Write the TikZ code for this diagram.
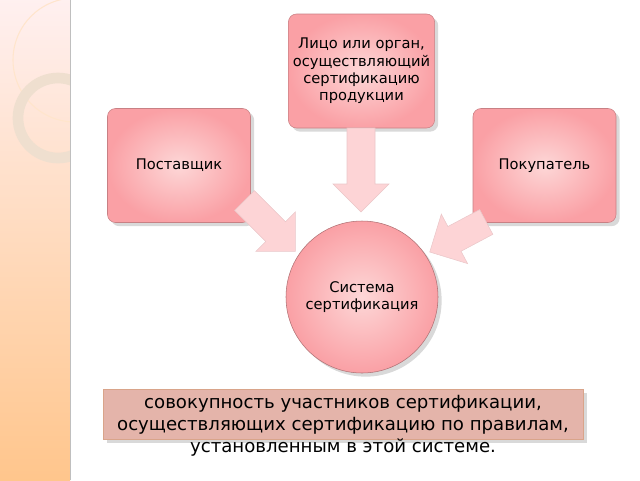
\documentclass[tikz,border=0pt]{standalone}
\usepackage{fontspec}
\setmainfont{DejaVu Sans}
\usetikzlibrary{shadows}
\definecolor{boxpink}{RGB}{250,160,165}
\definecolor{boxlight}{RGB}{253,215,215}
\definecolor{arrowpink}{RGB}{253,212,214}
\definecolor{notefill}{RGB}{228,180,170}
\tikzset{
  partbox/.style={draw=boxpink!80!black, rounded corners=6pt, inner color=boxlight, outer color=boxpink,
    minimum width=107.25pt, minimum height=85.5pt, align=center, font=\fontsize{11}{13}\selectfont, drop shadow={opacity=0.3}},
  flowarrow/.style={fill=arrowpink, draw=arrowpink!85!gray},
  pics/blockarrow/.style={code={
    \draw[flowarrow] (-#1/2,-14) -- (#1/2-28,-14) -- (#1/2-28,-28) -- (#1/2,0)
      -- (#1/2-28,28) -- (#1/2-28,14) -- (-#1/2,14) -- cycle;}},
}
\begin{document}
\begin{tikzpicture}[x=0.75pt,y=-0.75pt]
  \useasboundingbox (0,0) rectangle (640,480);
  % side strip
  \shade[top color=red!6, bottom color=orange!45] (0,0) rectangle (70,480);
  \begin{scope}
    \clip (0,0) rectangle (70,480);
    \draw[white!80!orange, line width=0.8pt] (75,60) circle[radius=62];
    \draw[brown!25, line width=8pt] (58,118) circle[radius=40];
  \end{scope}
  \draw[gray!50] (70,0) -- (70,480);

  \node[partbox] (top) at (361.5,71) {Лицо или орган,\\осуществляющий\\сертификацию\\продукции};
  \node[partbox] (supplier) at (179,165.5) {Поставщик};
  \node[partbox] (buyer) at (544.5,165.5) {Покупатель};
  \node[circle, minimum size=114pt, draw=boxpink!70!black, inner color=boxlight, outer color=boxpink,
    align=center, font=\fontsize{11}{13}\selectfont, drop shadow={opacity=0.3}] (system) at (362,297)
    {Система\\сертификация};

  % block arrows
  \pic[rotate=-90] (a1) at (361,170) {blockarrow=84};
  \pic[rotate=-45] (a2) at (270,226) {blockarrow=72};
  \pic[rotate=208] (a3) at (458,237) {blockarrow=64};

  \draw[notefill!70!brown, fill=notefill, drop shadow={opacity=0.3}] (103,389) rectangle (583,439);
  \node[align=center, font=\fontsize{13.6}{16.3}\selectfont] (note) at (343,426)
    {совокупность участников сертификации,\\осуществляющих сертификацию по правилам,\\установленным в этой системе.};
\end{tikzpicture}
\end{document}
